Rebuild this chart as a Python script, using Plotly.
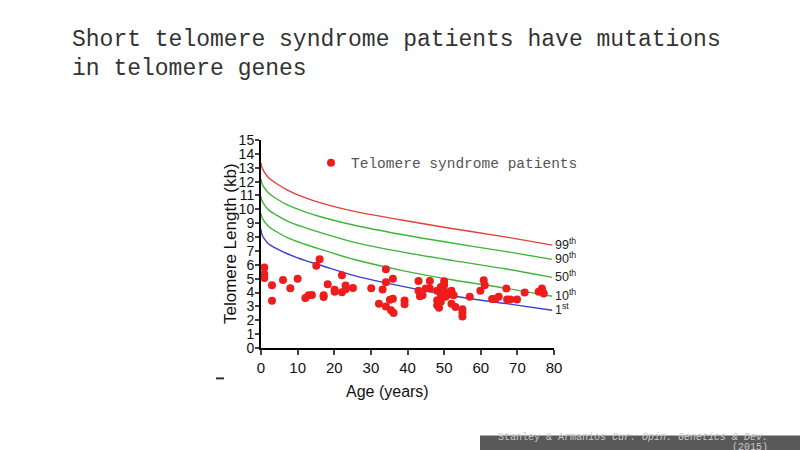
import plotly.graph_objects as go

# ---- data ----
patient_age = [0.9, 0.9, 0.9, 3.0, 3.0, 6.0, 8.0, 10.0, 12.1, 13.0, 13.9, 15.1, 16.0,
               17.1, 17.1, 18.2, 20.1, 20.1, 22.1, 22.1, 23.1, 23.1, 25.1, 30.1, 32.2,
               33.2, 34.1, 34.1, 34.1, 35.2, 35.5, 36.0, 36.0, 36.2, 39.2, 39.2,
               43.0, 43.0, 43.4, 44.1, 45.0, 46.1, 46.1, 48.1, 48.1, 48.1, 48.6, 49.1,
               49.1, 49.1, 50.0, 50.0, 50.0, 50.4, 51.3, 52.0, 52.0, 52.6, 53.1, 55.0,
               55.0, 55.0, 57.0, 59.9, 60.8, 61.1, 63.1, 64.0, 64.9, 67.0, 67.2, 68.1,
               69.9, 72.0, 75.8, 76.7, 76.9, 77.2]
patient_tl = [5.8, 5.33, 5.05, 4.52, 3.4, 4.9, 4.3, 5.0, 3.6, 3.8, 3.83, 5.93, 6.4,
              3.8, 3.68, 4.6, 4.2, 4.05, 5.25, 4.02, 4.5, 4.24, 4.32, 4.3, 3.2,
              4.22, 5.68, 4.75, 3.0, 3.48, 2.72, 5.0, 3.56, 2.53, 3.42, 3.15,
              4.84, 4.12, 3.73, 3.8, 4.29, 4.84, 4.29, 4.12, 3.45, 3.08, 2.9, 4.4,
              3.88, 3.33, 4.82, 4.53, 4.12, 3.69, 3.88, 4.12, 3.2, 3.8, 2.96, 2.8,
              2.55, 2.28, 3.69, 4.12, 4.89, 4.53, 3.54, 3.54, 3.69, 4.29, 3.49, 3.49,
              3.49, 4.0, 4.05, 4.29, 4.05, 3.93]

curve_age = [0, 0.3, 1, 2, 4, 7.5, 12, 16.5, 25.5, 38, 52.5, 67, 79.5]
p99 = [13.35, 13.0, 12.65, 12.3, 11.9, 11.35, 10.85, 10.45, 9.85, 9.25, 8.6, 8.0, 7.42]
p90 = [12.17, 11.85, 11.52, 11.2, 10.8, 10.28, 9.82, 9.45, 8.85, 8.2, 7.55, 6.95, 6.39]
p50 = [10.92, 10.6, 10.3, 9.98, 9.62, 9.12, 8.68, 8.3, 7.62, 6.95, 6.3, 5.7, 5.09]
p10 = [9.71, 9.4, 9.1, 8.78, 8.42, 7.92, 7.48, 7.1, 6.38, 5.62, 4.9, 4.3, 3.73]
p1 = [8.56, 8.15, 7.83, 7.52, 7.2, 6.76, 6.32, 5.95, 5.22, 4.48, 3.75, 3.2, 2.72]

percentile_curves = [("99", p99, "#e0413a"), ("90", p90, "#3fb53a"),
                     ("50", p50, "#3fb53a"), ("10", p10, "#3fb53a"),
                     ("1", p1, "#3a3fd6")]
percentile_suffix = {"99": "th", "90": "th", "50": "th", "10": "th", "1": "st"}

x_ticks = [0, 10, 20, 30, 40, 50, 60, 70, 80]
y_ticks = list(range(0, 16))

title_lines = ["Short telomere syndrome patients have mutations",
               "in telomere genes"]
legend_name = "Telomere syndrome patients"
citation_1 = "Stanley & Armanios <i>Cur. Opin. Genetics & Dev.</i>"
citation_2 = "(2015)"

# ---- layout geometry (pixels) ----
W, H = 800, 450
L, R, T, B = 261, 554, 140.2, 347.7


def px(x):
    return (x - L) / (R - L)


def py(y):
    return (B - y) / (B - T)


fig = go.Figure()

for name, vals, col in percentile_curves:
    fig.add_trace(go.Scatter(x=curve_age, y=vals, mode="lines",
                             line=dict(color=col, width=1.4, shape="spline", smoothing=1.0),
                             showlegend=False, hoverinfo="skip"))

fig.add_trace(go.Scatter(x=patient_age, y=patient_tl, mode="markers", name=legend_name,
                         marker=dict(color="#ee1c1c", size=8, line=dict(width=0)),
                         cliponaxis=False, showlegend=True))

annotations = []
for name, vals, col in percentile_curves:
    annotations.append(dict(x=curve_age[-1], y=vals[-1], xref="x", yref="y",
                            text=name + "<sup>" + percentile_suffix[name] + "</sup>",
                            showarrow=False, xanchor="left", yanchor="middle", xshift=1, yshift=1,
                            font=dict(family="Liberation Sans", size=12.5, color="#222")))

annotations.append(dict(x=px(70), y=py(40), xref="paper", yref="paper", text=title_lines[0],
                        showarrow=False, xanchor="left", yanchor="middle",
                        font=dict(family="Liberation Mono", size=23, color="#333")))
annotations.append(dict(x=px(70), y=py(69), xref="paper", yref="paper", text=title_lines[1],
                        showarrow=False, xanchor="left", yanchor="middle",
                        font=dict(family="Liberation Mono", size=23, color="#333")))
annotations.append(dict(x=px(387), y=py(391), xref="paper", yref="paper", text="Age (years)",
                        showarrow=False, xanchor="center", yanchor="middle",
                        font=dict(family="Liberation Sans", size=16, color="#111")))
annotations.append(dict(x=px(230), y=py(244), xref="paper", yref="paper",
                        text="Telomere Length (kb)", textangle=-90,
                        showarrow=False, xanchor="center", yanchor="middle",
                        font=dict(family="Liberation Sans", size=17, color="#111")))
annotations.append(dict(x=px(770), y=py(437), xref="paper", yref="paper", text=citation_1,
                        showarrow=False, xanchor="right", yanchor="middle",
                        font=dict(family="Liberation Mono", size=10, color="#c8c8c8")))
annotations.append(dict(x=px(770), y=py(447), xref="paper", yref="paper", text=citation_2,
                        showarrow=False, xanchor="right", yanchor="middle",
                        font=dict(family="Liberation Mono", size=10, color="#c8c8c8")))

shapes = [
    dict(type="rect", xref="paper", yref="paper", x0=px(480), x1=px(800), y0=py(435), y1=py(450),
         fillcolor="#595959", line=dict(width=0), layer="below"),
    dict(type="line", xref="paper", yref="paper", x0=px(216), x1=px(224), y0=py(378), y1=py(378),
         line=dict(color="#333", width=2)),
]

fig.update_layout(
    width=W, height=H, autosize=False,
    margin=dict(l=L, r=W - R, t=T, b=H - B, pad=0),
    paper_bgcolor="white", plot_bgcolor="white",
    showlegend=True,
    legend=dict(x=px(311), y=py(163), xanchor="left", yanchor="middle",
                bgcolor="rgba(0,0,0,0)", borderwidth=0,
                font=dict(family="Liberation Mono", size=14.5, color="#555")),
    xaxis=dict(range=[0, 80], tickvals=x_ticks, ticks="outside", ticklen=5, tickwidth=2,
               showline=True, linecolor="black", linewidth=2, showgrid=False, zeroline=False,
               tickfont=dict(family="Liberation Sans", size=15, color="#111")),
    yaxis=dict(range=[0, 15], tickvals=y_ticks, ticks="outside", ticklen=4, tickwidth=2,
               showline=True, linecolor="black", linewidth=2, showgrid=False, zeroline=False,
               ticklabelstandoff=-2,
               tickfont=dict(family="Liberation Sans", size=14, color="#111")),
    annotations=annotations, shapes=shapes,
)

fig.write_html("out.html", config={"displayModeBar": False},
               post_script="document.body.style.margin='0px';document.body.style.padding='0px';")
